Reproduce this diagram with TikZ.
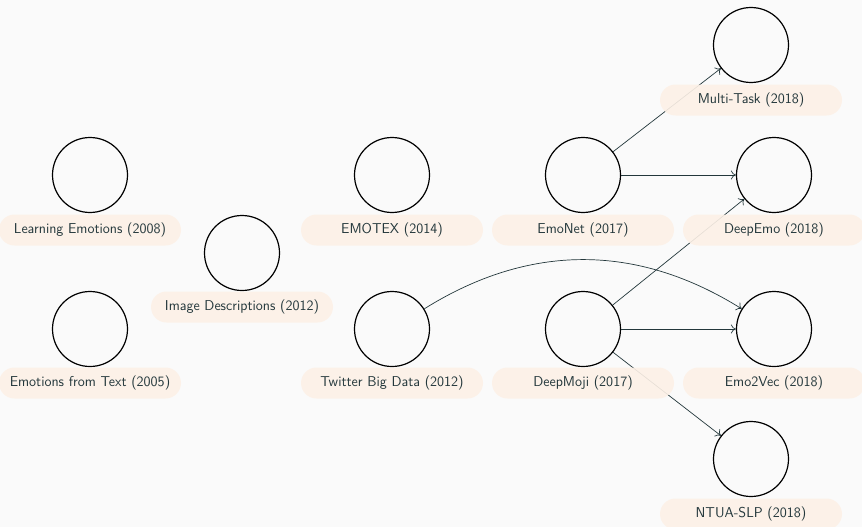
\documentclass[tikz,border=0pt]{standalone}
\usetikzlibrary{arrows.meta}
\definecolor{bg}{HTML}{FAFAFA}
\definecolor{fg}{HTML}{23373B}
\definecolor{lab}{HTML}{FDF1E7}
\begin{document}
\begin{tikzpicture}[x=1pt,y=-1pt,
  paper/.style={circle,draw=black,line width=1.2pt,minimum size=75pt,inner sep=0pt},
  tag/.style={rounded corners=15.5pt,fill=lab,fill opacity=0.9,text opacity=1,text=fg,
    minimum width=182pt,minimum height=31pt,inner sep=0pt,
    font=\sffamily\fontsize{14.3}{16}\selectfont},
  link/.style={draw=fg,line width=0.7pt,-{To[length=5pt,width=9pt]}}]
\fill[bg] (0,0) rectangle (862,527);
\useasboundingbox (0,0) rectangle (862,527);
% circles
\node[paper] (c1) at (90,175) {};
\node[paper] (c2) at (90,329) {};
\node[paper] (c3) at (242,253) {};
\node[paper] (c4) at (392,175) {};
\node[paper] (c5) at (392,329) {};
\node[paper] (c6) at (583,175) {};
\node[paper] (c7) at (583,329) {};
\node[paper] (c8) at (751,45) {};
\node[paper] (c9) at (774,175) {};
\node[paper] (c10) at (774,329) {};
\node[paper] (c11) at (751,459) {};
% connectors
\draw[link] (c6) -- (c8);
\draw[link] (c6) -- (c9);
\draw[link] (c7) -- (c9);
\draw[link] (c7) -- (c10);
\draw[link] (c7) -- (c11);
\draw[link] (c5) to[bend left=32] (c10);
% labels
\node[tag] (l1) at (90,230) {Learning Emotions (2008)};
\node[tag] (l2) at (90,383) {Emotions from Text (2005)};
\node[tag] (l3) at (242,307) {Image Descriptions (2012)};
\node[tag] (l4) at (392,230) {EMOTEX (2014)};
\node[tag] (l5) at (392,383) {Twitter Big Data (2012)};
\node[tag] (l6) at (583,230) {EmoNet (2017)};
\node[tag] (l7) at (583,383) {DeepMoji (2017)};
\node[tag] (l8) at (751,100) {Multi-Task (2018)};
\node[tag] (l9) at (774,230) {DeepEmo (2018)};
\node[tag] (l10) at (774,383) {Emo2Vec (2018)};
\node[tag] (l11) at (751,514) {NTUA-SLP (2018)};
\end{tikzpicture}
\end{document}
